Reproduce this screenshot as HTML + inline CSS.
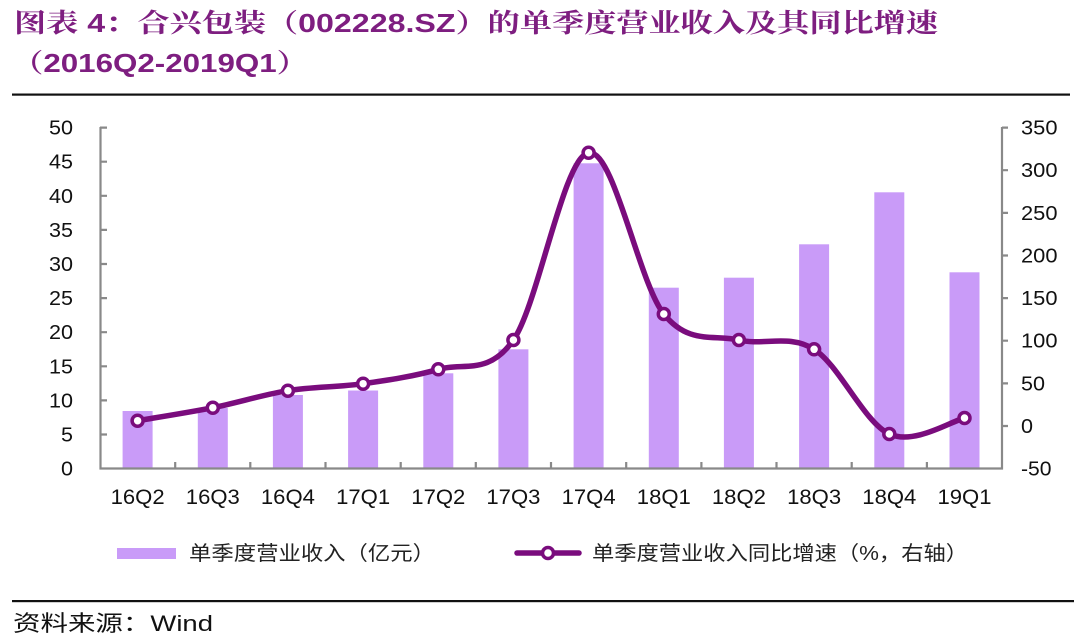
<!DOCTYPE html>
<html><head><meta charset="utf-8"><style>
html,body{margin:0;padding:0;background:#fff;}
svg{display:block;}
</style></head><body>
<svg width="1080" height="642" viewBox="0 0 1080 642" xmlns="http://www.w3.org/2000/svg">
<rect width="1080" height="642" fill="#fff"/>
<!-- Title -->
<g font-family="'Liberation Sans','Noto Serif CJK SC',serif" font-weight="bold" font-size="26" fill="#7E1E80">
<text x="14" y="32" textLength="924" lengthAdjust="spacingAndGlyphs">图表 4：合兴包装（002228.SZ）的单季度营业收入及其同比增速</text>
<text x="12" y="72" textLength="296" lengthAdjust="spacingAndGlyphs">（2016Q2-2019Q1）</text>
</g>
<rect x="12" y="93.5" width="1058" height="2.2" fill="#111"/>

<!-- Bars -->
<g fill="#C99BF8">
<rect x="122.6" y="411" width="30" height="57.5"/>
<rect x="197.8" y="408" width="30" height="60.5"/>
<rect x="272.9" y="395" width="30" height="73.5"/>
<rect x="348.1" y="390.5" width="30" height="78"/>
<rect x="423.3" y="373.3" width="30" height="95.2"/>
<rect x="498.4" y="349.3" width="30" height="119.2"/>
<rect x="573.6" y="163.3" width="30" height="305.2"/>
<rect x="648.8" y="287.7" width="30" height="180.8"/>
<rect x="723.9" y="277.7" width="30" height="190.8"/>
<rect x="799.1" y="244.3" width="30" height="224.2"/>
<rect x="874.3" y="192.3" width="30" height="276.2"/>
<rect x="949.5" y="272.3" width="30" height="196.2"/>
</g>

<!-- Axes -->
<g stroke="#898989" stroke-width="2.2" fill="none">
<line x1="100.5" y1="127" x2="100.5" y2="469.5"/>
<line x1="1002" y1="127" x2="1002" y2="469.5"/>
<line x1="99.5" y1="468.5" x2="1003" y2="468.5"/>
<!-- left ticks -->
<path d="M100 127.6H107M100 161.7H107M100 195.8H107M100 229.9H107M100 264H107M100 298.1H107M100 332.2H107M100 366.3H107M100 400.4H107M100 434.5H107"/>
<!-- right ticks -->
<path d="M1002 127.6H1008M1002 170.2H1008M1002 212.9H1008M1002 255.5H1008M1002 298.1H1008M1002 340.7H1008M1002 383.4H1008M1002 426H1008"/>
<!-- x ticks -->
<path d="M175.2 468.5V462M250.3 468.5V462M325.5 468.5V462M400.7 468.5V462M475.8 468.5V462M551 468.5V462M626.2 468.5V462M701.4 468.5V462M776.5 468.5V462M851.7 468.5V462M926.9 468.5V462"/>
</g>

<!-- Left tick labels -->
<g font-family="'Liberation Sans',sans-serif" font-size="20" fill="#111" text-anchor="end">
<text x="73" y="134.6" textLength="24" lengthAdjust="spacingAndGlyphs">50</text>
<text x="73" y="168.7" textLength="24" lengthAdjust="spacingAndGlyphs">45</text>
<text x="73" y="202.8" textLength="24" lengthAdjust="spacingAndGlyphs">40</text>
<text x="73" y="236.9" textLength="24" lengthAdjust="spacingAndGlyphs">35</text>
<text x="73" y="271" textLength="24" lengthAdjust="spacingAndGlyphs">30</text>
<text x="73" y="305.1" textLength="24" lengthAdjust="spacingAndGlyphs">25</text>
<text x="73" y="339.2" textLength="24" lengthAdjust="spacingAndGlyphs">20</text>
<text x="73" y="373.3" textLength="24" lengthAdjust="spacingAndGlyphs">15</text>
<text x="73" y="407.4" textLength="24" lengthAdjust="spacingAndGlyphs">10</text>
<text x="73" y="441.5" textLength="12" lengthAdjust="spacingAndGlyphs">5</text>
<text x="73" y="475.6" textLength="12" lengthAdjust="spacingAndGlyphs">0</text>
</g>

<!-- Right tick labels -->
<g font-family="'Liberation Sans',sans-serif" font-size="20" fill="#111">
<text x="1021" y="134.6" textLength="36.5" lengthAdjust="spacingAndGlyphs">350</text>
<text x="1021" y="177.2" textLength="36.5" lengthAdjust="spacingAndGlyphs">300</text>
<text x="1021" y="219.9" textLength="36.5" lengthAdjust="spacingAndGlyphs">250</text>
<text x="1021" y="262.5" textLength="36.5" lengthAdjust="spacingAndGlyphs">200</text>
<text x="1021" y="305.1" textLength="36.5" lengthAdjust="spacingAndGlyphs">150</text>
<text x="1021" y="347.7" textLength="36.5" lengthAdjust="spacingAndGlyphs">100</text>
<text x="1021" y="390.4" textLength="24" lengthAdjust="spacingAndGlyphs">50</text>
<text x="1021" y="433" textLength="12" lengthAdjust="spacingAndGlyphs">0</text>
<text x="1021" y="475.6" textLength="30.5" lengthAdjust="spacingAndGlyphs">-50</text>
</g>

<!-- X labels -->
<g font-family="'Liberation Sans',sans-serif" font-size="21" fill="#111" text-anchor="middle">
<text x="137.6" y="504" textLength="54" lengthAdjust="spacingAndGlyphs">16Q2</text>
<text x="212.8" y="504" textLength="54" lengthAdjust="spacingAndGlyphs">16Q3</text>
<text x="287.9" y="504" textLength="54" lengthAdjust="spacingAndGlyphs">16Q4</text>
<text x="363.1" y="504" textLength="54" lengthAdjust="spacingAndGlyphs">17Q1</text>
<text x="438.3" y="504" textLength="54" lengthAdjust="spacingAndGlyphs">17Q2</text>
<text x="513.4" y="504" textLength="54" lengthAdjust="spacingAndGlyphs">17Q3</text>
<text x="588.6" y="504" textLength="54" lengthAdjust="spacingAndGlyphs">17Q4</text>
<text x="663.8" y="504" textLength="54" lengthAdjust="spacingAndGlyphs">18Q1</text>
<text x="738.9" y="504" textLength="54" lengthAdjust="spacingAndGlyphs">18Q2</text>
<text x="814.1" y="504" textLength="54" lengthAdjust="spacingAndGlyphs">18Q3</text>
<text x="889.3" y="504" textLength="54" lengthAdjust="spacingAndGlyphs">18Q4</text>
<text x="964.5" y="504" textLength="54" lengthAdjust="spacingAndGlyphs">19Q1</text>
</g>

<!-- Smoothed line -->
<path fill="none" stroke="#7A0C7D" stroke-width="5.5" stroke-linecap="round" stroke-linejoin="round"
d="M137.6 420.7 C150.13 418.53 187.75 412.7 212.8 407.7 C237.85 402.7 262.85 394.7 287.9 390.7 C312.95 386.7 338.03 387.27 363.1 383.7 C388.17 380.13 413.25 376.58 438.3 369.3 C463.35 362.02 488.35 376.1 513.4 340 C538.45 303.9 563.53 157.03 588.6 152.7 C613.67 148.37 638.75 282.78 663.8 314 C688.85 345.22 713.85 334.12 738.9 340 C763.95 345.88 789.03 333.63 814.1 349.3 C839.17 364.97 864.23 422.55 889.3 434 C914.37 445.45 951.97 420.67 964.5 418"/>
<g fill="#fff" stroke="#7A0C7D" stroke-width="3.5">
<circle cx="137.6" cy="420.7" r="5.5"/>
<circle cx="212.8" cy="407.7" r="5.5"/>
<circle cx="287.9" cy="390.7" r="5.5"/>
<circle cx="363.1" cy="383.7" r="5.5"/>
<circle cx="438.3" cy="369.3" r="5.5"/>
<circle cx="513.4" cy="340" r="5.5"/>
<circle cx="588.6" cy="152.7" r="5.5"/>
<circle cx="663.8" cy="314" r="5.5"/>
<circle cx="738.9" cy="340" r="5.5"/>
<circle cx="814.1" cy="349.3" r="5.5"/>
<circle cx="889.3" cy="434" r="5.5"/>
<circle cx="964.5" cy="418" r="5.5"/>
</g>

<!-- Legend -->
<rect x="117" y="548" width="59" height="11" fill="#C99BF8"/>
<line x1="517" y1="553" x2="579" y2="553" stroke="#7A0C7D" stroke-width="5.5" stroke-linecap="round"/>
<circle cx="548" cy="553" r="5.5" fill="#fff" stroke="#7A0C7D" stroke-width="3.5"/>
<g font-family="'Liberation Sans','Noto Sans CJK SC',sans-serif" font-size="20" fill="#222">
<text x="189" y="560" textLength="246" lengthAdjust="spacingAndGlyphs">单季度营业收入（亿元）</text>
<text x="592" y="560" textLength="376" lengthAdjust="spacingAndGlyphs">单季度营业收入同比增速（%，右轴）</text>
</g>

<!-- Bottom rule & source -->
<rect x="12" y="600" width="1062" height="2.2" fill="#111"/>
<text x="13" y="631" font-family="'Liberation Sans','Noto Sans CJK SC',sans-serif" font-size="22" fill="#111" textLength="200" lengthAdjust="spacingAndGlyphs">资料来源：Wind</text>
</svg>
</body></html>
